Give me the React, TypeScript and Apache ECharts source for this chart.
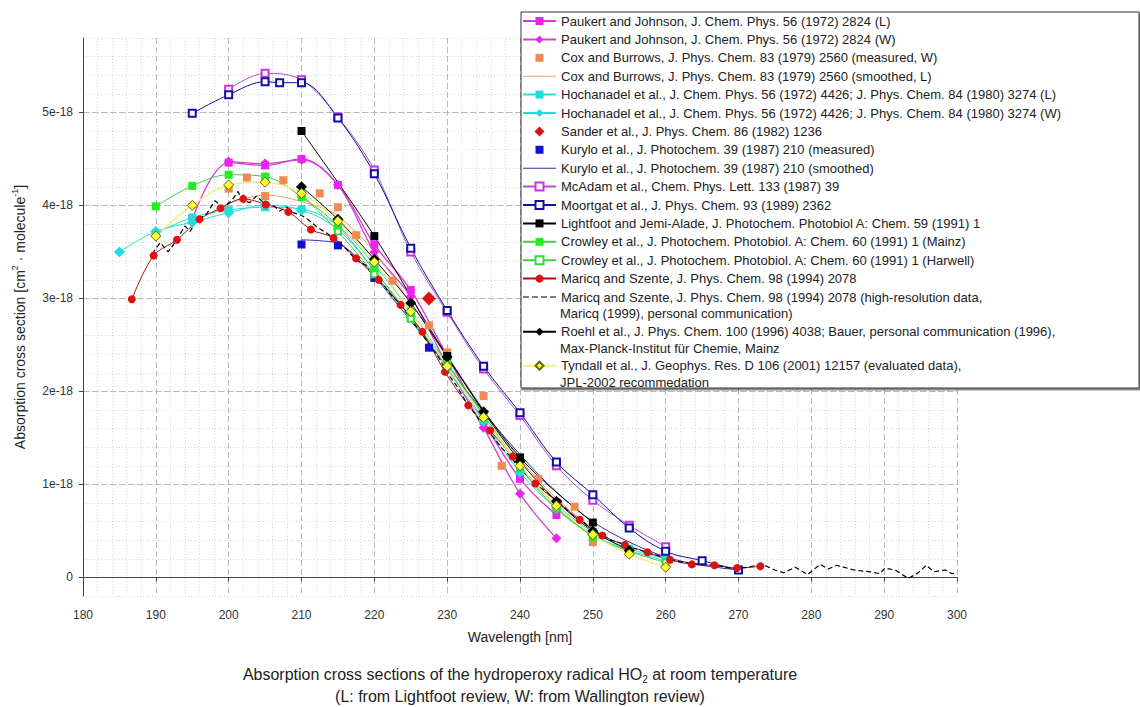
import React, { useEffect, useRef } from "react";
import * as echarts from "echarts";

const FONT = '"Liberation Sans", Arial, Helvetica, sans-serif';

type Pt = [number, number];

// Axis ticks (y values in units of 1e-18 cm^2 molecule^-1)
const X_MIN = 180;
const X_MAX = 300;
const X_STEP = 10;
const Y_MIN = -0.2;
const Y_MAX = 5.8;
const Y_MINOR_STEP = 0.2;
const Y_TICKS = [0, 1, 2, 3, 4, 5];

// ---- data (wavelength nm, cross section / 1e-18) ----
const PAUKERT_L: Pt[] = [[195, 3.85], [200, 4.46], [205, 4.43], [210, 4.5], [215, 4.22], [220, 3.58], [225, 3.09], [230, 2.38], [235, 1.68], [240, 1.06], [245, 0.67]];
const PAUKERT_W: Pt[] = [[200, 4.47], [205, 4.45], [210, 4.49], [215, 4.22], [220, 3.5], [225, 3.02], [230, 2.28], [235, 1.61], [240, 0.9], [245, 0.42]];
const COX_MEASURED: Pt[] = [[200, 4.18], [202.5, 4.3], [205, 4.1], [207.5, 4.27], [212.5, 4.13], [215, 3.98], [217.5, 3.68], [222.5, 3.19], [227.5, 2.71], [230, 2.42], [235, 1.95], [237.5, 1.2], [242.5, 1.06], [247.5, 0.76], [250, 0.38]];
const COX_SMOOTHED: Pt[] = [[197.5, 3.9], [200, 4.02], [202.5, 4.08], [205, 4.11], [207.5, 4.09], [210, 4.04], [212.5, 3.98], [215, 3.89], [220, 3.5], [225, 2.95], [230, 2.38], [235, 1.8], [240, 1.27], [245, 0.85], [250, 0.52]];
const HOCH_L: Pt[] = [[190, 3.7], [195, 3.87], [200, 3.95], [205, 3.98], [210, 3.96], [215, 3.78], [220, 3.36], [225, 2.86], [230, 2.3], [235, 1.74], [240, 1.18], [245, 0.78], [250, 0.49], [255, 0.31], [260, 0.2]];
const HOCH_W: Pt[] = [[185, 3.5], [190, 3.72], [195, 3.82], [200, 3.92], [205, 4.0], [210, 3.95], [215, 3.74], [220, 3.3], [225, 2.8], [230, 2.24], [235, 1.68], [240, 1.13], [245, 0.74], [250, 0.46], [255, 0.29], [260, 0.18]];
const SANDER: Pt[] = [[227.5, 3.0]];
const KURYLO_MEASURED: Pt[] = [[210, 3.58], [215, 3.57], [220, 3.22], [227.5, 2.47], [270, 0.08]];
const KURYLO_SMOOTHED: Pt[] = [[210, 3.63], [212.5, 3.62], [215, 3.59], [217.5, 3.45], [220, 3.24], [222.5, 3.0], [225, 2.76], [230, 2.27], [235, 1.78], [240, 1.32], [245, 0.92], [250, 0.6], [255, 0.38], [260, 0.22], [265, 0.13], [270, 0.08]];
const MCADAM: Pt[] = [[200, 5.25], [205, 5.42], [210, 5.35], [215, 4.95], [220, 4.38], [225, 3.5], [230, 2.85], [235, 2.24], [240, 1.74], [245, 1.2], [250, 0.83], [255, 0.56], [260, 0.33]];
const MOORTGAT: Pt[] = [[195, 4.99], [200, 5.19], [205, 5.33], [207, 5.32], [210, 5.32], [215, 4.94], [220, 4.34], [225, 3.54], [230, 2.87], [235, 2.27], [240, 1.77], [245, 1.24], [250, 0.89], [255, 0.53], [260, 0.28], [265, 0.18], [270, 0.08]];
const LIGHTFOOT: Pt[] = [[210, 4.8], [220, 3.67], [230, 2.38], [240, 1.29], [250, 0.59]];
const CROWLEY_MAINZ: Pt[] = [[190, 3.99], [195, 4.21], [200, 4.33], [205, 4.31], [210, 4.09], [215, 3.78], [220, 3.3], [225, 2.8], [230, 2.3], [235, 1.75], [240, 1.2], [245, 0.76], [250, 0.43]];
const CROWLEY_HARWELL: Pt[] = [[210, 4.12], [215, 3.72], [220, 3.26], [225, 2.78], [230, 2.28], [235, 1.72], [240, 1.18], [245, 0.74], [250, 0.45], [255, 0.28], [260, 0.16]];
const MARICQ: Pt[] = [[186.7, 2.99], [189.7, 3.46], [192.9, 3.63], [196, 3.85], [198.9, 3.97], [202, 4.07], [205.1, 4.01], [208.2, 3.93], [211.3, 3.74], [214.4, 3.65], [217.5, 3.43], [220.6, 3.2], [223.6, 2.93], [226.6, 2.64], [229.7, 2.21], [232.9, 1.85], [235.9, 1.58], [239.0, 1.3], [242.1, 1.01], [245.2, 0.81], [248.2, 0.62], [251.3, 0.45], [254.4, 0.35], [257.5, 0.27], [260.6, 0.19], [263.6, 0.14], [266.7, 0.13], [269.8, 0.1], [273.0, 0.12]];
const MARICQ_HIRES: Pt[] = [[189.5, 3.48], [190.6, 3.6], [191.7, 3.5], [192.8, 3.62], [194, 3.78], [194.7, 3.72], [195.6, 3.84], [197, 3.91], [198.1, 4.05], [199.2, 3.98], [200.4, 4.05], [201.3, 4.15], [201.8, 4.06], [202.9, 4.03], [203.8, 4.1], [204.8, 4.03], [206.1, 4.0], [207, 3.94], [208, 3.98], [208.9, 3.92], [209.8, 3.9], [210.7, 3.86], [212.1, 3.77], [213.5, 3.7], [215, 3.61], [216.3, 3.52], [217.5, 3.41], [218.8, 3.36], [220, 3.22], [221.3, 3.14], [222.5, 3.02], [223.8, 2.92], [225, 2.77], [226.3, 2.65], [227.5, 2.5], [228.8, 2.37], [230, 2.2], [231.3, 2.06], [232.5, 1.9], [233.8, 1.76], [235, 1.62], [236.3, 1.51], [237.5, 1.39], [238.8, 1.29], [240, 1.16], [241.3, 1.08], [242.5, 0.98], [243.8, 0.91], [245, 0.82], [246.3, 0.74], [247.5, 0.65], [248.8, 0.59], [250, 0.5], [251.3, 0.46], [252.5, 0.4], [253.8, 0.37], [255, 0.32], [256.3, 0.3], [257.5, 0.26], [258.8, 0.24], [260, 0.2], [261.3, 0.18], [262.5, 0.16], [263.8, 0.15], [265, 0.14], [266.3, 0.13], [267.5, 0.12], [268.8, 0.1], [270, 0.1], [271.3, 0.11], [272.5, 0.13], [273.6, 0.13], [275, 0.08], [276.2, 0.05], [277.8, 0.11], [279.5, 0.03], [281.2, 0.14], [282.3, 0.09], [283.5, 0.13], [285.8, 0.08], [288.1, 0.06], [289.4, 0.04], [290.1, 0.1], [291.5, 0.08], [293.3, -0.01], [294.5, 0.04], [295.8, 0.13], [296.8, 0.06], [298.4, 0.08], [299.3, 0.04], [300, 0.05]];
const ROEHL: Pt[] = [[210, 4.2], [215, 3.85], [220, 3.42], [225, 2.95], [230, 2.37], [235, 1.78], [240, 1.25], [245, 0.82], [250, 0.5], [255, 0.29]];
const TYNDALL: Pt[] = [[190, 3.67], [195, 4.0], [200, 4.22], [205, 4.25], [210, 4.13], [215, 3.83], [220, 3.39], [225, 2.86], [230, 2.27], [235, 1.72], [240, 1.2], [245, 0.77], [250, 0.46], [255, 0.25], [260, 0.11]];

// ---- labels ----
const N = {
  paukertL: "Paukert and Johnson, J. Chem. Phys. 56 (1972) 2824 (L)",
  paukertW: "Paukert and Johnson, J. Chem. Phys. 56 (1972) 2824 (W)",
  coxM: "Cox and Burrows, J. Phys. Chem. 83 (1979) 2560 (measured, W)",
  coxS: "Cox and Burrows, J. Phys. Chem. 83 (1979) 2560 (smoothed, L)",
  hochL: "Hochanadel et al., J. Chem. Phys. 56 (1972) 4426; J. Phys. Chem. 84 (1980) 3274 (L)",
  hochW: "Hochanadel et al., J. Chem. Phys. 56 (1972) 4426; J. Phys. Chem. 84 (1980) 3274 (W)",
  sander: "Sander et al., J. Phys. Chem. 86 (1982) 1236",
  kuryloM: "Kurylo et al., J. Photochem. 39 (1987) 210 (measured)",
  kuryloS: "Kurylo et al., J. Photochem. 39 (1987) 210 (smoothed)",
  mcadam: "McAdam et al., Chem. Phys. Lett. 133 (1987) 39",
  moortgat: "Moortgat et al., J. Phys. Chem. 93 (1989) 2362",
  lightfoot: "Lightfoot and Jemi-Alade, J. Photochem. Photobiol A: Chem. 59 (1991) 1",
  crowleyM: "Crowley et al., J. Photochem. Photobiol. A: Chem. 60 (1991) 1 (Mainz)",
  crowleyH: "Crowley et al., J. Photochem. Photobiol. A: Chem. 60 (1991) 1 (Harwell)",
  maricq: "Maricq and Szente, J. Phys. Chem. 98 (1994) 2078",
  maricqHR: "Maricq and Szente, J. Phys. Chem. 98 (1994) 2078 (high-resolution data,",
  roehl: "Roehl et al., J. Phys. Chem. 100 (1996) 4038; Bauer, personal communication (1996),",
  tyndall: "Tyndall et al., J. Geophys. Res. D 106 (2001) 12157 (evaluated data),",
};
const CONT_MARICQ = "Maricq (1999), personal communication)";
const CONT_ROEHL = "Max-Planck-Institut für Chemie, Mainz";
const CONT_TYNDALL = "JPL-2002 recommedation";
const X_NAME = "Wavelength [nm]";
const Y_NAME = "Absorption cross section [cm{sup|2} · molecule{sup|-1}]";
const CAPTION1 = "Absorption cross sections of the hydroperoxy radical HO{sub|2} at room temperature";
const CAPTION2 = "(L: from Lightfoot review, W: from Wallington review)";

const LINE_ICON = "path://M0,0H33V1H0Z";
const DASH_ICON = "path://M0,0H6V1H0ZM9,0H15V1H9ZM18,0H24V1H18ZM27,0H33V1H27Z";
const DIAMOND_ICON = "path://M5,0L10,5L5,10L0,5Z";

function ser(name: string, data: Pt[], color: string, symbol: string, size: number, extra: any = {}) {
  return {
    name,
    type: "line",
    data,
    smooth: 0.35,
    symbol,
    symbolSize: size,
    showSymbol: symbol !== "none",
    lineStyle: { color, width: 1 },
    itemStyle: { color, borderColor: color, borderWidth: symbol.startsWith("empty") ? 2 : 0 },
    emphasis: { disabled: true },
    z: 2,
    ...extra,
  };
}
const NOLINE = { lineStyle: { width: 0, opacity: 0 } };

export default function App() {
  const ref = useRef<HTMLDivElement>(null);
  useEffect(() => {
    document.body.style.margin = "0";
    const chart = echarts.init(ref.current!, null, { renderer: "svg" });

    const series: any[] = [
      ser(N.paukertL, PAUKERT_L, "#ee22ee", "rect", 8, { lineStyle: { color: "#dd33dd", width: 1.3 } }),
      ser(N.paukertW, PAUKERT_W, "#ee22ee", "diamond", 10, { lineStyle: { color: "#cc44cc", width: 1.3 } }),
      ser(N.coxM, COX_MEASURED, "#f08a50", "rect", 8, NOLINE),
      ser(N.coxS, COX_SMOOTHED, "#f0a070", "none", 0),
      ser(N.hochL, HOCH_L, "#22dddd", "rect", 8),
      ser(N.hochW, HOCH_W, "#22dddd", "diamond", 11),
      ser(N.sander, SANDER, "#dd1111", "diamond", 14, NOLINE),
      ser(N.kuryloM, KURYLO_MEASURED, "#1010d0", "rect", 8, NOLINE),
      ser(N.kuryloS, KURYLO_SMOOTHED, "#3030a0", "none", 0),
      ser(N.mcadam, MCADAM, "#d030e0", "emptyRect", 7, { lineStyle: { color: "#b050d0", width: 1 } }),
      ser(N.moortgat, MOORTGAT, "#1010a8", "emptyRect", 7),
      ser(N.lightfoot, LIGHTFOOT, "#000000", "rect", 8),
      ser(N.crowleyM, CROWLEY_MAINZ, "#22ee22", "rect", 8, { lineStyle: { color: "#44cc44", width: 1 } }),
      ser(N.crowleyH, CROWLEY_HARWELL, "#33dd33", "emptyRect", 6, { lineStyle: { color: "#44cc44", width: 1 } }),
      ser(N.maricq, MARICQ, "#dd1111", "circle", 8, { lineStyle: { color: "#aa1111", width: 1 } }),
      ser(N.maricqHR, MARICQ_HIRES, "#000000", "none", 0, { smooth: false, lineStyle: { color: "#000", width: 1.2, type: [5, 3] } }),
      ser(N.roehl, ROEHL, "#000000", "diamond", 11),
      ser(N.tyndall, TYNDALL, "#ffff33", "diamond", 10, {
        lineStyle: { color: "#f0f07a", width: 1.5 },
        itemStyle: { color: "#ffff33", borderColor: "#666600", borderWidth: 1 },
      }),
    ];

    const legendCommon = {
      orient: "vertical",
      left: 522,
      padding: 0,
      itemWidth: 33,
      itemHeight: 10,
      itemGap: 4.4,
      selectedMode: false,
      symbolKeepAspect: true,
      textStyle: { fontSize: 13, fontFamily: FONT, color: "#222", lineHeight: 14 },
      z: 6,
    };
    const firstNames = [
      N.paukertL, N.paukertW, N.coxM, N.coxS, N.hochL, N.hochW, N.sander, N.kuryloM,
      N.kuryloS, N.mcadam, N.moortgat, N.lightfoot, N.crowleyM, N.crowleyH, N.maricq, N.maricqHR,
    ];
    const iconFor = (n: string) =>
      n === N.coxS || n === N.kuryloS
        ? { icon: LINE_ICON }
        : n === N.maricqHR
        ? { icon: DASH_ICON }
        : n === N.sander
        ? { icon: DIAMOND_ICON }
        : {};

    const option: any = {
      animation: false,
      backgroundColor: "#ffffff",
      textStyle: { fontFamily: FONT },
      grid: { left: 83, right: 183, top: 38, bottom: 111, containLabel: false },
      xAxis: {
        type: "value",
        min: X_MIN,
        max: X_MAX,
        interval: X_STEP,
        name: X_NAME,
        nameLocation: "middle",
        nameGap: 34,
        nameTextStyle: { fontSize: 14, color: "#222", fontFamily: FONT },
        axisLine: { show: true, lineStyle: { color: "#444", width: 1 } },
        axisTick: { show: true, length: 4, lineStyle: { color: "#444" } },
        axisLabel: { fontSize: 12, color: "#333", margin: 13, fontFamily: FONT },
        splitLine: { show: true, lineStyle: { color: "#b8b8b8", type: [6, 3], width: 1 } },
        minorTick: { show: false, splitNumber: 5 },
        minorSplitLine: { show: true, lineStyle: { color: "#d6d6d6", type: [1, 2], width: 1 } },
      },
      yAxis: [
        {
          type: "value",
          position: "left",
          min: Y_MIN,
          max: Y_MAX,
          interval: Y_MINOR_STEP,
          axisLine: { show: true, lineStyle: { color: "#444", width: 1 } },
          axisTick: { show: false },
          axisLabel: { show: false },
          splitLine: { show: true, lineStyle: { color: "#d6d6d6", type: [1, 2], width: 1 } },
        },
        {
          type: "value",
          position: "left",
          min: Y_MIN,
          max: Y_MAX,
          name: Y_NAME,
          nameLocation: "middle",
          nameGap: 54,
          nameRotate: 90,
          nameTextStyle: {
            fontSize: 14,
            color: "#222",
            fontFamily: FONT,
            lineHeight: 19,
            rich: { sup: { fontSize: 9, lineHeight: 9, verticalAlign: "top", fontFamily: FONT, color: "#222" } },
          },
          axisLine: { show: false },
          axisTick: { show: true, length: 4, lineStyle: { color: "#444" }, customValues: Y_TICKS },
          axisLabel: {
            fontSize: 12,
            color: "#333",
            margin: 10,
            fontFamily: FONT,
            customValues: Y_TICKS,
            formatter: (v: number) => {
              const r = Math.round(v * 1000) / 1000;
              if (!Y_TICKS.includes(r)) return "";
              return r === 0 ? "0" : `${r}e-18`;
            },
          },
          splitLine: { show: true, lineStyle: { color: "#b8b8b8", type: [6, 3], width: 1 } },
        },
      ],
      legend: [
        { ...legendCommon, top: 14, data: firstNames.map((n) => ({ name: n, ...iconFor(n) })) },
        { ...legendCommon, top: 324.7, data: [{ name: N.roehl }] },
        { ...legendCommon, top: 358.7, data: [{ name: N.tyndall }] },
      ],
      graphic: [
        {
          type: "rect",
          z: 3,
          shape: { x: 521, y: 12, width: 618, height: 376 },
          style: { fill: "#fff", stroke: "#333", lineWidth: 1, shadowColor: "rgba(0,0,0,0.45)", shadowOffsetX: 1, shadowOffsetY: 2, shadowBlur: 1 },
        },
        ...[
          [CONT_MARICQ, 313.5],
          [CONT_ROEHL, 348.5],
          [CONT_TYNDALL, 382.5],
        ].map(([t, y]) => ({
          type: "text",
          z: 7,
          x: 560,
          y: y as number,
          style: { text: t as string, fontSize: 13, fontFamily: FONT, fill: "#222", verticalAlign: "middle", align: "left" },
        })),
        {
          type: "text",
          z: 7,
          x: 520,
          y: 674,
          style: {
            text: CAPTION1,
            fontSize: 16,
            fontFamily: FONT,
            fill: "#222",
            align: "center",
            verticalAlign: "middle",
            lineHeight: 20,
            rich: { sub: { fontSize: 10, lineHeight: 10, verticalAlign: "bottom", fontFamily: FONT, fill: "#222" } },
          },
        },
        {
          type: "text",
          z: 7,
          x: 520,
          y: 696,
          style: { text: CAPTION2, fontSize: 16, fontFamily: FONT, fill: "#222", align: "center", verticalAlign: "middle" },
        },
      ],
      series,
    };
    chart.setOption(option);
    return () => chart.dispose();
  }, []);
  return <div ref={ref} style={{ width: 1140, height: 707 }} />;
}
